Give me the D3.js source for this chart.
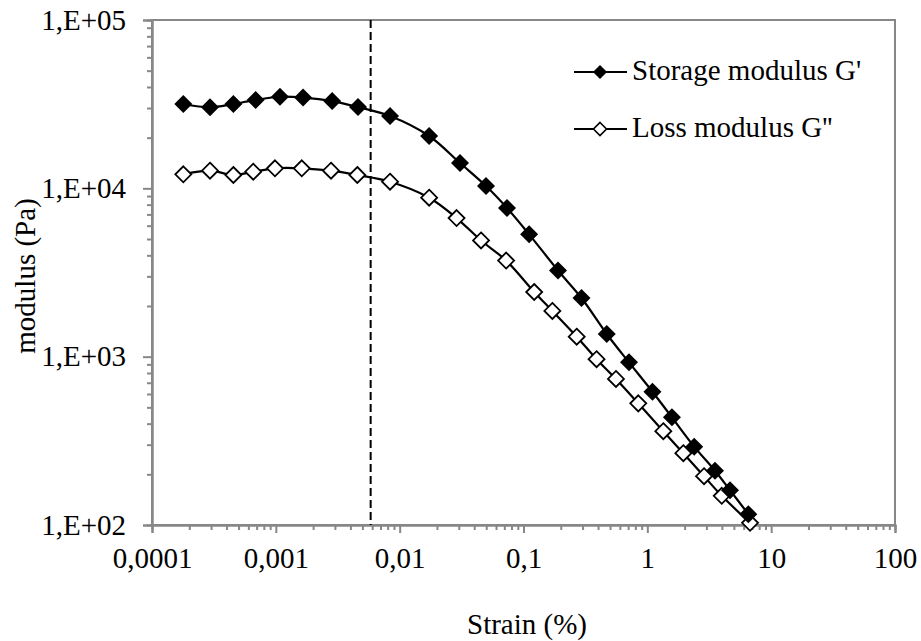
<!DOCTYPE html>
<html>
<head>
<meta charset="utf-8">
<script src="https://cdn.jsdelivr.net/npm/d3@7"></script>
<style>
  html, body { margin: 0; padding: 0; background: #fff; }
  svg { display: block; }
</style>
</head>
<body>
<svg id="chart" width="921" height="641"></svg>
<script>
// ---- Data ----
const strainStorage = [0.000179, 0.000294, 0.000454, 0.000687, 0.00108, 0.00166, 0.00285, 0.00461, 0.00836, 0.0173, 0.0307, 0.0498, 0.0736, 0.111, 0.190, 0.294, 0.470, 0.711, 1.10, 1.58, 2.39, 3.52, 4.65, 6.54];
const storageModulus = [31700, 30300, 31700, 33500, 35000, 34600, 33000, 30400, 26900, 20460, 14140, 10320, 7640, 5330, 3250, 2230, 1364, 925, 619, 436, 292, 210, 161, 116];

const strainLoss = [0.000179, 0.000294, 0.000454, 0.000657, 0.000984, 0.00162, 0.00279, 0.00455, 0.00836, 0.0173, 0.0288, 0.0454, 0.0724, 0.122, 0.171, 0.269, 0.389, 0.558, 0.845, 1.346, 1.953, 2.87, 3.99, 6.75];
const lossModulus = [12110, 12730, 12000, 12550, 13150, 13150, 12730, 12000, 10950, 8800, 6660, 4900, 3725, 2422, 1868, 1314, 966, 737, 528, 361, 267, 195, 149, 103];

const xTickValues = [0.0001, 0.001, 0.01, 0.1, 1, 10, 100];
const xTickLabels = ["0,0001", "0,001", "0,01", "0,1", "1", "10", "100"];
const yTickValues = [100, 1000, 10000, 100000];
const yTickLabels = ["1,E+02", "1,E+03", "1,E+04", "1,E+05"];

const criticalStrain = 0.00583;

const seriesNames = ["Storage modulus G'", "Loss modulus G''"];
const xTitle = "Strain (%)";
const yTitle = "modulus (Pa)";

// ---- Layout ----
const L = 152, R = 895, T = 20, B = 525;
const FONT = "'Liberation Serif', 'Times New Roman', Tinos, serif";
const FS = 29;
const AX = "#878787";

const svg = d3.select("#chart");
const x = d3.scaleLog().domain([1e-4, 100]).range([L, R]);
const y = d3.scaleLog().domain([100, 1e5]).range([B, T]);

// plot border
svg.append("rect").attr("x", L).attr("y", T).attr("width", R - L).attr("height", B - T)
  .attr("fill", "none").attr("stroke", AX).attr("stroke-width", 2);

// minor ticks
function minorTicks(domain) {
  const out = [];
  for (let e = Math.round(Math.log10(domain[0])); e < Math.round(Math.log10(domain[1])); e++) {
    for (let k = 2; k <= 9; k++) out.push(k * Math.pow(10, e));
  }
  return out;
}
const xMinor = svg.append("g").attr("transform", `translate(0,${B})`)
  .call(d3.axisBottom(x).tickValues(minorTicks(x.domain())).tickSize(5).tickFormat(""));
const yMinor = svg.append("g").attr("transform", `translate(${L},0)`)
  .call(d3.axisLeft(y).tickValues(minorTicks(y.domain())).tickSize(5).tickFormat(""));

const xAxis = svg.append("g").attr("transform", `translate(0,${B})`)
  .call(d3.axisBottom(x).tickValues(xTickValues).tickSize(8).tickPadding(14)
    .tickFormat((d, i) => xTickLabels[i]));
const yAxis = svg.append("g").attr("transform", `translate(${L},0)`)
  .call(d3.axisLeft(y).tickValues(yTickValues).tickSize(9).tickPadding(17)
    .tickFormat((d, i) => yTickLabels[i]));

[xMinor, yMinor, xAxis, yAxis].forEach(g => {
  g.attr("font-family", FONT).attr("font-size", FS);
  g.selectAll("path.domain").attr("stroke", AX).attr("stroke-width", 2);
  g.selectAll(".tick line").attr("stroke", AX).attr("stroke-width", 2);
});
xAxis.selectAll(".tick text").attr("fill", "#000");
yAxis.selectAll(".tick text").attr("fill", "#000");

// dashed critical strain line
svg.append("line").attr("x1", x(criticalStrain)).attr("x2", x(criticalStrain))
  .attr("y1", T).attr("y2", B).attr("stroke", "#000").attr("stroke-width", 2)
  .attr("stroke-dasharray", "8,4");

// series
const line = d3.line().curve(d3.curveCatmullRom.alpha(0.5)).x(d => x(d[0])).y(d => y(d[1]));
const storage = strainStorage.map((s, i) => [s, storageModulus[i]]);
const loss = strainLoss.map((s, i) => [s, lossModulus[i]]);

const diamond = (cx, cy, r) => `M${cx},${cy - r}L${cx + r},${cy}L${cx},${cy + r}L${cx - r},${cy}Z`;

svg.append("path").datum(loss).attr("d", line).attr("fill", "none").attr("stroke", "#000").attr("stroke-width", 2.2);
svg.append("path").datum(storage).attr("d", line).attr("fill", "none").attr("stroke", "#000").attr("stroke-width", 2.2);

svg.append("g").selectAll("path").data(loss).join("path")
  .attr("d", d => diamond(x(d[0]), y(d[1]), 8))
  .attr("fill", "#fff").attr("stroke", "#000").attr("stroke-width", 1.8);
svg.append("g").selectAll("path").data(storage).join("path")
  .attr("d", d => diamond(x(d[0]), y(d[1]), 9))
  .attr("fill", "#000");

// legend
const legend = svg.append("g").attr("font-family", FONT).attr("font-size", FS);
const legY = [72, 129];
seriesNames.forEach((name, i) => {
  const g = legend.append("g");
  g.append("line").attr("x1", 574).attr("x2", 627).attr("y1", legY[i]).attr("y2", legY[i])
    .attr("stroke", "#000").attr("stroke-width", 2.2);
  if (i === 0) {
    g.append("path").attr("d", diamond(600, legY[i], 7)).attr("fill", "#000");
  } else {
    g.append("path").attr("d", diamond(600, legY[i], 6.5)).attr("fill", "#fff")
      .attr("stroke", "#000").attr("stroke-width", 1.6);
  }
  g.append("text").attr("x", 632).attr("y", legY[i] + 8)
    .attr("fill", "#000").text(name);
});

// axis titles
const titles = svg.append("g").attr("font-family", FONT).attr("font-size", FS).attr("fill", "#000");
titles.append("text").attr("x", 527).attr("y", 634)
  .attr("text-anchor", "middle").text(xTitle);
titles.append("text").attr("transform", `translate(35,276) rotate(-90)`)
  .attr("text-anchor", "middle").text(yTitle);
</script>
</body>
</html>
